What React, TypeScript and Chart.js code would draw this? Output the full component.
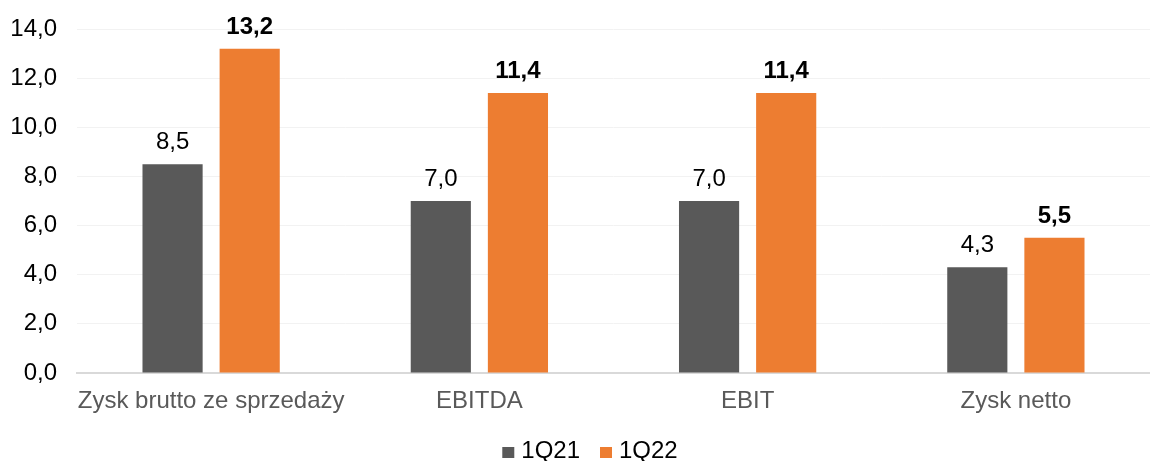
import React, { useEffect, useRef } from "react";
import { Chart, registerables } from "chart.js";

Chart.register(...registerables);

const categories = ["Zysk brutto ze sprzedaży", "EBITDA", "EBIT", "Zysk netto"];
const series1Label = "1Q21";
const series1Values = [8.5, 7.0, 7.0, 4.3];
const series2Label = "1Q22";
const series2Values = [13.2, 11.4, 11.4, 5.5];
const yTicks = [0, 2, 4, 6, 8, 10, 12, 14];

const fmt = (v: number) => v.toFixed(1).replace(".", ",");

const FONT = "'Liberation Sans', Arial, sans-serif";
const FS = 24;

const dataLabels = {
  id: "dataLabels",
  afterDatasetsDraw(chart: any) {
    const ctx = chart.ctx;
    chart.data.datasets.forEach((ds: any, i: number) => {
      const meta = chart.getDatasetMeta(i);
      meta.data.forEach((el: any, j: number) => {
        ctx.save();
        ctx.font = `${i === 1 ? "bold " : ""}${FS}px ${FONT}`;
        ctx.fillStyle = "#000000";
        ctx.textAlign = "center";
        ctx.textBaseline = "alphabetic";
        ctx.fillText(fmt(ds.data[j]), el.x, el.y - 15);
        ctx.restore();
      });
    });
  },
};

const customLegend = {
  id: "customLegend",
  afterDraw(chart: any) {
    const ctx = chart.ctx;
    ctx.save();
    ctx.font = `${FS}px ${FONT}`;
    const items = chart.data.datasets.map((ds: any) => ({
      label: ds.label,
      color: ds.backgroundColor,
      w: ctx.measureText(ds.label).width,
    }));
    const box = 12;
    const gapBoxText = 7;
    const gapItems = 20;
    const total = items.reduce((s: number, it: any) => s + box + gapBoxText + it.w, 0) + gapItems * (items.length - 1);
    let x = 590 - total / 2;
    const yText = 451;
    items.forEach((it: any) => {
      ctx.fillStyle = it.color;
      ctx.fillRect(x, 447, box, 11);
      x += box + gapBoxText;
      ctx.fillStyle = "#000000";
      ctx.textAlign = "left";
      ctx.textBaseline = "middle";
      ctx.fillText(it.label, x, yText);
      x += it.w + gapItems;
    });
    ctx.restore();
  },
};

export default function App() {
  const ref = useRef<HTMLCanvasElement>(null);
  useEffect(() => {
    if (!ref.current) return;
    const chart = new Chart(ref.current, {
      type: "bar",
      data: {
        labels: categories,
        datasets: [
          {
            label: series1Label,
            data: series1Values,
            backgroundColor: "#595959",
            categoryPercentage: 0.575,
            barPercentage: 0.78,
          },
          {
            label: series2Label,
            data: series2Values,
            backgroundColor: "#ED7D31",
            categoryPercentage: 0.575,
            barPercentage: 0.78,
          },
        ],
      },
      options: {
        animation: false,
        responsive: false,
        layout: { padding: { top: 29, left: 10, right: 0, bottom: 40 } },
        plugins: {
          legend: { display: false },
          tooltip: { enabled: false },
        },
        scales: {
          x: {
            grid: { display: false },
            border: { display: true, color: "#d9d9d9", width: 2 },
            afterFit: (axis: any) => {
              axis.height = 48;
            },
            ticks: {
              color: "#595959",
              font: { family: FONT, size: FS },
              padding: 6,
              maxRotation: 0,
              autoSkip: false,
            },
          },
          y: {
            min: 0,
            max: 14,
            afterBuildTicks: (axis: any) => {
              axis.ticks = yTicks.map((v) => ({ value: v }));
            },
            afterFit: (axis: any) => {
              axis.width = 67;
              axis.paddingTop = 0;
              axis.paddingBottom = 0;
            },
            grid: { color: "#f2f2f2", drawTicks: false },
            border: { display: false },
            ticks: {
              color: "#000000",
              font: { family: FONT, size: FS },
              padding: 20,
              callback: (v: any) => fmt(Number(v)),
            },
          },
        },
      },
      plugins: [dataLabels, customLegend],
    });
    return () => chart.destroy();
  }, []);
  return (
    <div style={{ position: "fixed", left: 0, top: 0, width: 1150, height: 461, background: "#fff" }}>
      <canvas ref={ref} width={1150} height={461} />
    </div>
  );
}
